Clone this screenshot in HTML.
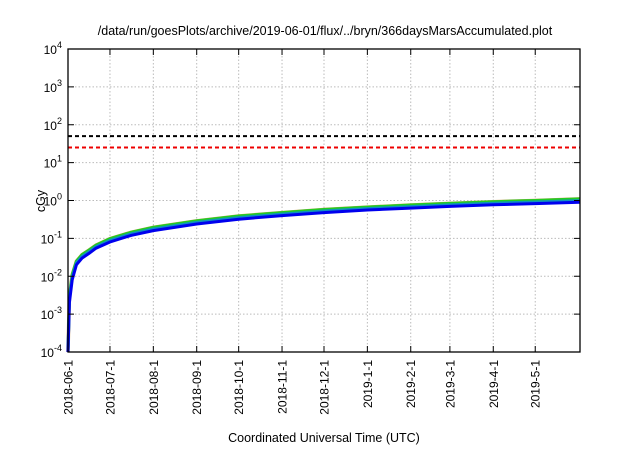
<!DOCTYPE html>
<html><head><meta charset="utf-8"><style>
body{margin:0;background:#fff;width:640px;height:448px;overflow:hidden}
svg text{font-family:"Liberation Sans",sans-serif;fill:#000}
</style></head><body>
<svg id="c" width="640" height="448">
<text x="325" y="35" text-anchor="middle" font-size="12.5">/data/run/goesPlots/archive/2019-06-01/flux/../bryn/366daysMarsAccumulated.plot</text>
<text x="324" y="442" text-anchor="middle" font-size="12.5">Coordinated Universal Time (UTC)</text>
<text transform="translate(45,201) rotate(-90)" text-anchor="middle" font-size="12.5">cGy</text>
<g id="grid"></g><g id="marks"></g><g id="axes"></g>
</svg>
<script>
const yExps=[-4,-3,-2,-1,0,1,2,3,4];
const xTickLabels=["2018-06-1","2018-07-1","2018-08-1","2018-09-1","2018-10-1","2018-11-1","2018-12-1","2019-1-1","2019-2-1","2019-3-1","2019-4-1","2019-5-1"];
const xTickDays=[0,30,61,92,122,153,183,214,245,273,304,334];
const days=[0,1,3,6,10,15,20,30,45,61,92,122,153,183,214,245,273,304,334,366];
const blueVals=[1e-4,2e-3,8e-3,2e-2,3e-2,4e-2,5.5e-2,8e-2,0.12,0.16,0.24,0.32,0.40,0.48,0.56,0.63,0.70,0.77,0.83,0.90];
const greenVals=[1e-4,3e-3,1.1e-2,2.5e-2,3.7e-2,4.9e-2,6.6e-2,0.098,0.145,0.195,0.29,0.39,0.48,0.58,0.67,0.76,0.84,0.93,1.0,1.1];
const blackLimit=50, redLimit=25;
const L=68,R=580,T=49,B=352,D0=0,D1=366;
const X=d=>L+(d-D0)/(D1-D0)*(R-L);
const Y=v=>B-(Math.log10(v)+4)/8*(B-T);
const NS="http://www.w3.org/2000/svg";
function mk(p,t,a){const e=document.createElementNS(NS,t);for(const k in a)e.setAttribute(k,a[k]);p.appendChild(e);return e;}
const grid=document.getElementById('grid'),marks=document.getElementById('marks'),axes=document.getElementById('axes');
yExps.forEach(e=>{const y=Y(Math.pow(10,e));
 if(e>-4&&e<4){const g=mk(grid,'line',{x1:L,x2:R,y1:y,y2:y,stroke:'#bbb','stroke-dasharray':'1.5,2','stroke-width':1});
 
 }
 const t1=mk(axes,'line',{x1:L,x2:L+6,y1:y,y2:y,stroke:'#000'});
 
 
 const t2=mk(axes,'line',{x1:R-6,x2:R,y1:y,y2:y,stroke:'#000'});
 
 
 const tx=mk(axes,'text',{x:L-6,y:y+5,'text-anchor':'end','font-size':12});
 
 
 tx.textContent='10';const s=mk(tx,'tspan',{dy:-6,'font-size':9});s.textContent=String(e);
});
xTickDays.forEach((d,i)=>{const x=X(d);
 if(i>0){const g=mk(grid,'line',{x1:x,x2:x,y1:T,y2:B,stroke:'#bbb','stroke-dasharray':'1.5,2','stroke-width':1});
 
 }
 const t=mk(axes,'line',{x1:x,x2:x,y1:B,y2:B-6,stroke:'#000'});
 
 
 const t2=mk(axes,'line',{x1:x,x2:x,y1:T,y2:T+6,stroke:'#000'});
 
 
 const tx=mk(axes,'text',{transform:`translate(${x+4.5},${B+8}) rotate(-90)`,'text-anchor':'end','font-size':12});
 
 
 tx.textContent=xTickLabels[i];
});
const bl=mk(marks,'line',{x1:L,x2:R,y1:Y(blackLimit),y2:Y(blackLimit),stroke:'#000','stroke-width':2,'stroke-dasharray':'4,3'});


const rl=mk(marks,'line',{x1:L,x2:R,y1:Y(redLimit),y2:Y(redLimit),stroke:'#e00','stroke-width':2,'stroke-dasharray':'4,3'});


function path(vals){return vals.map((v,i)=>(i?'L':'M')+X(days[i]).toFixed(1)+','+Y(v).toFixed(1)).join('');}
const mid=blueVals.map((v,i)=>Math.sqrt(v*greenVals[i]));
const g1=mk(marks,'path',{d:path(greenVals),fill:'none',stroke:'#d0a060','stroke-width':3.5});


const g2=mk(marks,'path',{d:path(greenVals),fill:'none',stroke:'#22cc22','stroke-width':3});


const g3=mk(marks,'path',{d:path(mid),fill:'none',stroke:'#1090c0','stroke-width':3});


const g4=mk(marks,'path',{d:path(blueVals),fill:'none',stroke:'#0000ee','stroke-width':3});


const fr=mk(axes,'rect',{x:L,y:T,width:R-L,height:B-T,fill:'none',stroke:'#000','stroke-width':1.3});


</script>
</body></html>
